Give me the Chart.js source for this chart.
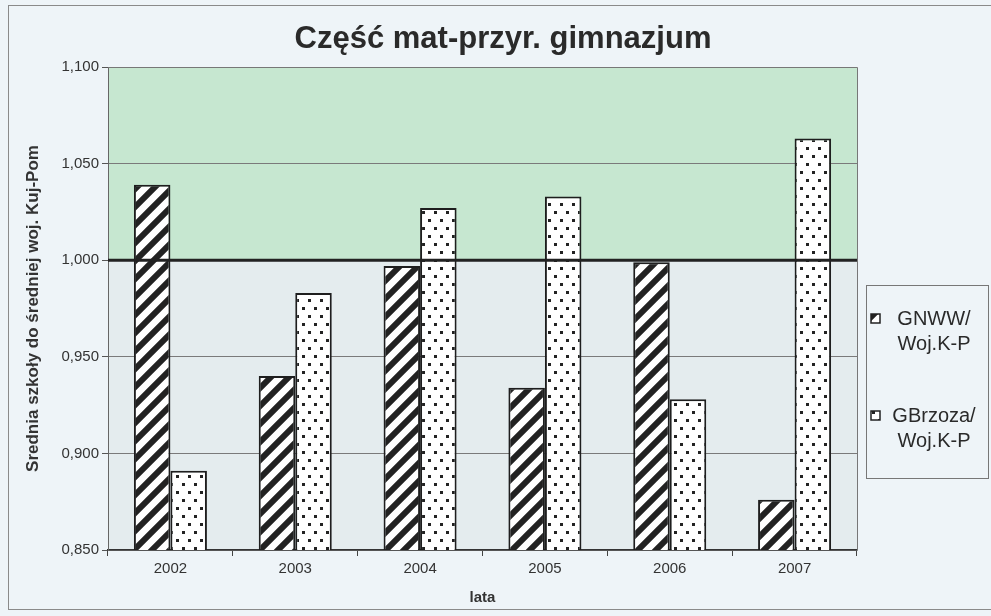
<!DOCTYPE html>
<html>
<head>
<meta charset="utf-8">
<script src="https://cdn.jsdelivr.net/npm/chart.js@4"></script>
<style>
  html, body { margin: 0; padding: 0; background: #eef4f8; }
  #wrap { width: 991px; height: 616px; }
</style>
</head>
<body>
<div id="wrap"><canvas id="barChart" width="991" height="616"></canvas></div>
<script>
// ---- data ----
const years = ["2002", "2003", "2004", "2005", "2006", "2007"];
const gnwwValues = [1.039, 0.940, 0.997, 0.934, 0.999, 0.876];
const gbrzozaValues = [0.891, 0.983, 1.027, 1.033, 0.928, 1.063];
const seriesLabels = [["GNWW/", "Woj.K-P"], ["GBrzoza/", "Woj.K-P"]];
const yMin = 0.85, yMax = 1.1, yStep = 0.05;
const referenceLevel = 1.0;

const FONT = "'Liberation Sans', Arial, sans-serif";

// hatched fill "/"
function makeHatch() {
    const s = 18;
    const c = document.createElement("canvas");
    c.width = s; c.height = s;
    const g = c.getContext("2d");
    g.fillStyle = "#ffffff";
    g.fillRect(0, 0, s, s);
    g.strokeStyle = "#222";
    g.lineWidth = 6;
    g.beginPath();
    g.moveTo(-4, s + 4); g.lineTo(s + 4, -4);
    g.moveTo(-4, 4); g.lineTo(4, -4);
    g.moveTo(s - 4, s + 4); g.lineTo(s + 4, s - 4);
    g.stroke();
    return g.createPattern(c, "repeat");
}

// dotted fill
function makeDots() {
    const c = document.createElement("canvas");
    c.width = 12; c.height = 16;
    const g = c.getContext("2d");
    g.fillStyle = "#ffffff";
    g.fillRect(0, 0, 12, 16);
    g.fillStyle = "#222";
    g.fillRect(2, 3, 3, 3);
    g.fillRect(8, 11, 3, 3);
    return g.createPattern(c, "repeat");
}

const hatch = makeHatch();
const dots = makeDots();
const fills = [hatch, dots];

// background, frame, 1.000 line, title and legend
const decorPlugin = {
    id: "decor",
    beforeDraw(chart) {
        const { ctx, chartArea: a, scales } = chart;
        const yRef = scales.y.getPixelForValue(referenceLevel);
        ctx.save();
        ctx.strokeStyle = "#8a8a8a";
        ctx.lineWidth = 1;
        ctx.strokeRect(8.5, 5.5, 1000, 604);
        ctx.fillStyle = "#c6e7d0";
        ctx.fillRect(a.left, a.top, a.right - a.left, yRef - a.top);
        ctx.fillStyle = "#e4ecee";
        ctx.fillRect(a.left, yRef, a.right - a.left, a.bottom - yRef);
        ctx.restore();
    },
    afterDatasetsDraw(chart) {
        const { ctx, chartArea: a, scales } = chart;
        const yRef = scales.y.getPixelForValue(referenceLevel);
        ctx.save();
        ctx.strokeStyle = "#777";
        ctx.lineWidth = 1;
        ctx.beginPath();
        ctx.moveTo(a.left, a.top + 0.5);
        ctx.lineTo(a.right + 0.5, a.top + 0.5);
        ctx.lineTo(a.right + 0.5, a.bottom);
        ctx.stroke();
        ctx.strokeStyle = "#222";
        ctx.lineWidth = 3;
        ctx.beginPath();
        ctx.moveTo(a.left, yRef);
        ctx.lineTo(a.right, yRef);
        ctx.stroke();
        ctx.restore();
    },
    afterDraw(chart) {
        const { ctx } = chart;
        ctx.save();
        ctx.fillStyle = "#2a2a2a";
        ctx.font = "bold 31px " + FONT;
        ctx.textAlign = "center";
        ctx.textBaseline = "middle";
        ctx.fillText("Część mat-przyr. gimnazjum", 503, 39);

        // legend box
        ctx.fillStyle = "#eef4f8";
        ctx.fillRect(866, 285, 122, 193);
        ctx.strokeStyle = "#777";
        ctx.lineWidth = 1;
        ctx.strokeRect(866.5, 285.5, 122, 193);
        const rows = [319, 416];
        ctx.font = "20px " + FONT;
        seriesLabels.forEach((lines, i) => {
            const y = rows[i];
            ctx.fillStyle = fills[i];
            ctx.fillRect(871, y - 5, 9, 9);
            ctx.strokeStyle = "#222";
            ctx.lineWidth = 1.5;
            ctx.strokeRect(871, y - 5, 9, 9);
            ctx.fillStyle = "#2a2a2a";
            lines.forEach((t, j) => ctx.fillText(t, 934, y + j * 25));
        });
        ctx.restore();
    }
};

new Chart(document.getElementById("barChart"), {
    type: "bar",
    data: {
        labels: years,
        datasets: [
            {
                label: seriesLabels[0].join(" "),
                data: gnwwValues,
                backgroundColor: hatch,
                borderColor: "#1e1e1e",
                borderWidth: 2,
                borderSkipped: false
            },
            {
                label: seriesLabels[1].join(" "),
                data: gbrzozaValues,
                backgroundColor: dots,
                borderColor: "#1e1e1e",
                borderWidth: 2,
                borderSkipped: false
            }
        ]
    },
    options: {
        responsive: false,
        animation: false,
        layout: { padding: { left: 22, right: 134, top: 67, bottom: 9 } },
        categoryPercentage: 0.585,
        barPercentage: 1.0,
        plugins: {
            legend: { display: false },
            title: { display: false },
            tooltip: { enabled: false }
        },
        scales: {
            x: {
                offset: true,
                grid: { drawOnChartArea: false, drawTicks: true, tickLength: 6, tickColor: "#444" },
                border: { color: "#333", width: 1.5 },
                ticks: { color: "#333", font: { family: FONT, size: 15 }, padding: 4 },
                title: { display: true, text: "lata", color: "#333", font: { family: FONT, size: 15, weight: "bold" }, padding: 0 },
                afterFit: s => { s.height = 57; }
            },
            y: {
                min: yMin,
                max: yMax,
                ticks: {
                    stepSize: yStep,
                    color: "#333",
                    font: { family: FONT, size: 15 },
                    padding: 3,
                    callback: v => v.toFixed(3).replace(".", ",")
                },
                grid: { color: "#7a7a7a", lineWidth: 1, tickLength: 6, tickColor: "#555" },
                border: { color: "#666", width: 1 },
                title: {
                    display: true,
                    text: "Srednia szkoły do średniej woj. Kuj-Pom",
                    color: "#333",
                    font: { family: FONT, size: 17, weight: "bold" },
                    padding: { top: 1, bottom: 0 }
                },
                afterFit: s => { s.width = 86; }
            }
        }
    },
    plugins: [decorPlugin]
});
</script>
</body>
</html>
